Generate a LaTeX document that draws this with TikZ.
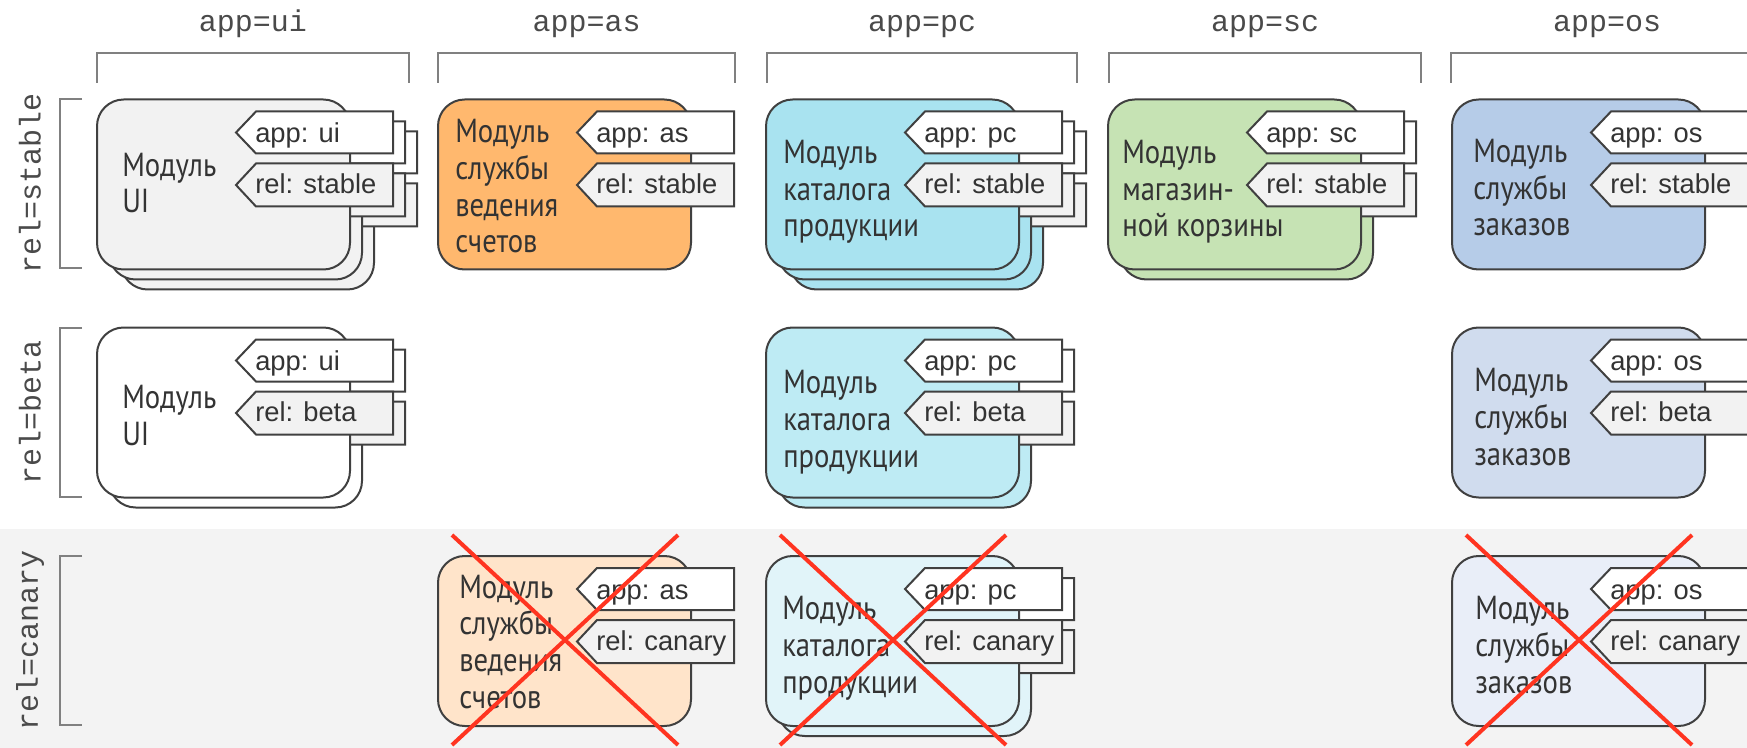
\documentclass[tikz,border=0pt]{standalone}
\usepackage{fontspec}
\setmainfont{Liberation Sans}
\newfontfamily\modfont[FakeStretch=0.86]{PT Sans}
\newfontfamily\codefont{Liberation Mono}
\usepackage{xcolor}
\definecolor{lineclr}{HTML}{404040}
\definecolor{txtclr}{HTML}{333333}
\definecolor{hdrclr}{HTML}{4A4A4A}
\definecolor{braceclr}{HTML}{808080}
\definecolor{relclr}{HTML}{F2F2F2}
\definecolor{bandclr}{HTML}{F3F3F3}
\definecolor{uist}{HTML}{F2F2F2}
\definecolor{asst}{HTML}{FFB86E}
\definecolor{asca}{HTML}{FFE4CA}
\definecolor{pcst}{HTML}{A9E3F0}
\definecolor{pcbe}{HTML}{BEEBF4}
\definecolor{pcca}{HTML}{E1F4F9}
\definecolor{scst}{HTML}{C6E3B4}
\definecolor{osst}{HTML}{B6CCE8}
\definecolor{osbe}{HTML}{D0DCEE}
\definecolor{osca}{HTML}{E9EEF8}
\definecolor{redx}{HTML}{FF3420}

\begin{document}
\begin{tikzpicture}[x=0.75pt,y=0.75pt,yscale=-1,xscale=1,
    card/.style={draw=lineclr,line width=1.5pt,rounded corners=20pt},
    tagbox/.style={draw=lineclr,line width=1.5pt},
    tagtext/.style={anchor=base west,inner sep=0pt,text=txtclr,font=\fontsize{20.5}{24}\selectfont},
    modtext/.style={anchor=base west,inner sep=0pt,align=left,text=txtclr,font=\modfont\fontsize{25}{27.5}\selectfont},
    brace/.style={draw=braceclr,line width=1.5pt},
    hdr/.style={inner sep=0pt,text=hdrclr,font=\codefont\fontsize{22.5}{24}\selectfont},
    cross/.style={draw=redx,line width=3pt}]
\useasboundingbox (0,0) rectangle (1747,748);
\clip (0,0) rectangle (1747,748);

% canary row
\fill[bandclr] (0,529) rectangle (1747,748);

% app brackets on top
\foreach \xa/\xb/\name in {97/409/ui,438/735/as,767/1077/pc,1109/1421/sc,1451/1763/os} {
  \draw[brace] (\xa,83) -- (\xa,53) -- (\xb,53) -- (\xb,83);
  \node[hdr,anchor=base] (hdr\name) at ({(\xa+\xb)/2},32) {app=\name};
}
% rel brackets on the left
\foreach \ya/\yb/\name in {99/268/stable,328/497/beta,556/725/canary} {
  \draw[brace] (82,\ya) -- (60,\ya) -- (60,\yb) -- (82,\yb);
  \node[hdr,rotate=90] (lbl\name) at (30,{(\ya+\yb)/2}) {rel=\name};
}

% modules: left, top, fill, copies behind, app, rel, text, text x, last baseline
\foreach \bx/\by/\fc/\ns/\app/\rel/\txt/\tx/\ty [count=\i] in {
    97/99.5/uist/2/ui/stable/{Модуль\\UI}/25/113.5,
    438/99.5/asst/0/as/stable/{Модуль\\службы\\ведения\\счетов}/17/153.5,
    766/99.5/pcst/2/pc/stable/{Модуль\\каталога\\продукции}/17/137.5,
    1108/99.5/scst/1/sc/stable/{Модуль\\магазин-\\ной корзины}/14/137.5,
    1452/99.5/osst/0/os/stable/{Модуль\\службы\\заказов}/21/136.5,
    97/327.5/white/1/ui/beta/{Модуль\\UI}/25/117.5,
    766/327.5/pcbe/1/pc/beta/{Модуль\\каталога\\продукции}/17/139.5,
    1452/327.5/osbe/0/os/beta/{Модуль\\службы\\заказов}/22/137.5,
    438/556/asca/0/as/canary/{Модуль\\службы\\ведения\\счетов}/21/152,
    766/556/pcca/1/pc/canary/{Модуль\\каталога\\продукции}/16/137,
    1452/556/osca/0/os/canary/{Модуль\\службы\\заказов}/23/137} {
  \foreach \k in {\ns,...,0} {
    \pgfmathsetmacro\ox{\bx+12*\k}
    \pgfmathsetmacro\oy{\by+10*\k}
    \draw[card,fill=\fc] (\ox,\oy) rectangle ++(253,170);
    \draw[tagbox,fill=white] (\ox+139,\oy+33) -- ++(20,-21) -- ++(137,0) -- ++(0,42) -- ++(-137,0) -- cycle;
    \draw[tagbox,fill=relclr] (\ox+139,\oy+85.5) -- ++(20,-21.5) -- ++(137,0) -- ++(0,43) -- ++(-137,0) -- cycle;
  }
  \node[tagtext] (app\i) at (\bx+158,\by+43) {app: \app};
  \node[tagtext] (rel\i) at (\bx+158,\by+94) {rel: \rel};
  \node[modtext] (mod\i) at (\bx+\tx,\by+\ty) {\txt};
}

% canary builds crossed out
\foreach \bx in {438,766,1452} {
  \draw[cross] (\bx+14,535) -- (\bx+240,745);
  \draw[cross] (\bx+240,535) -- (\bx+14,745);
}
\end{tikzpicture}
\end{document}
